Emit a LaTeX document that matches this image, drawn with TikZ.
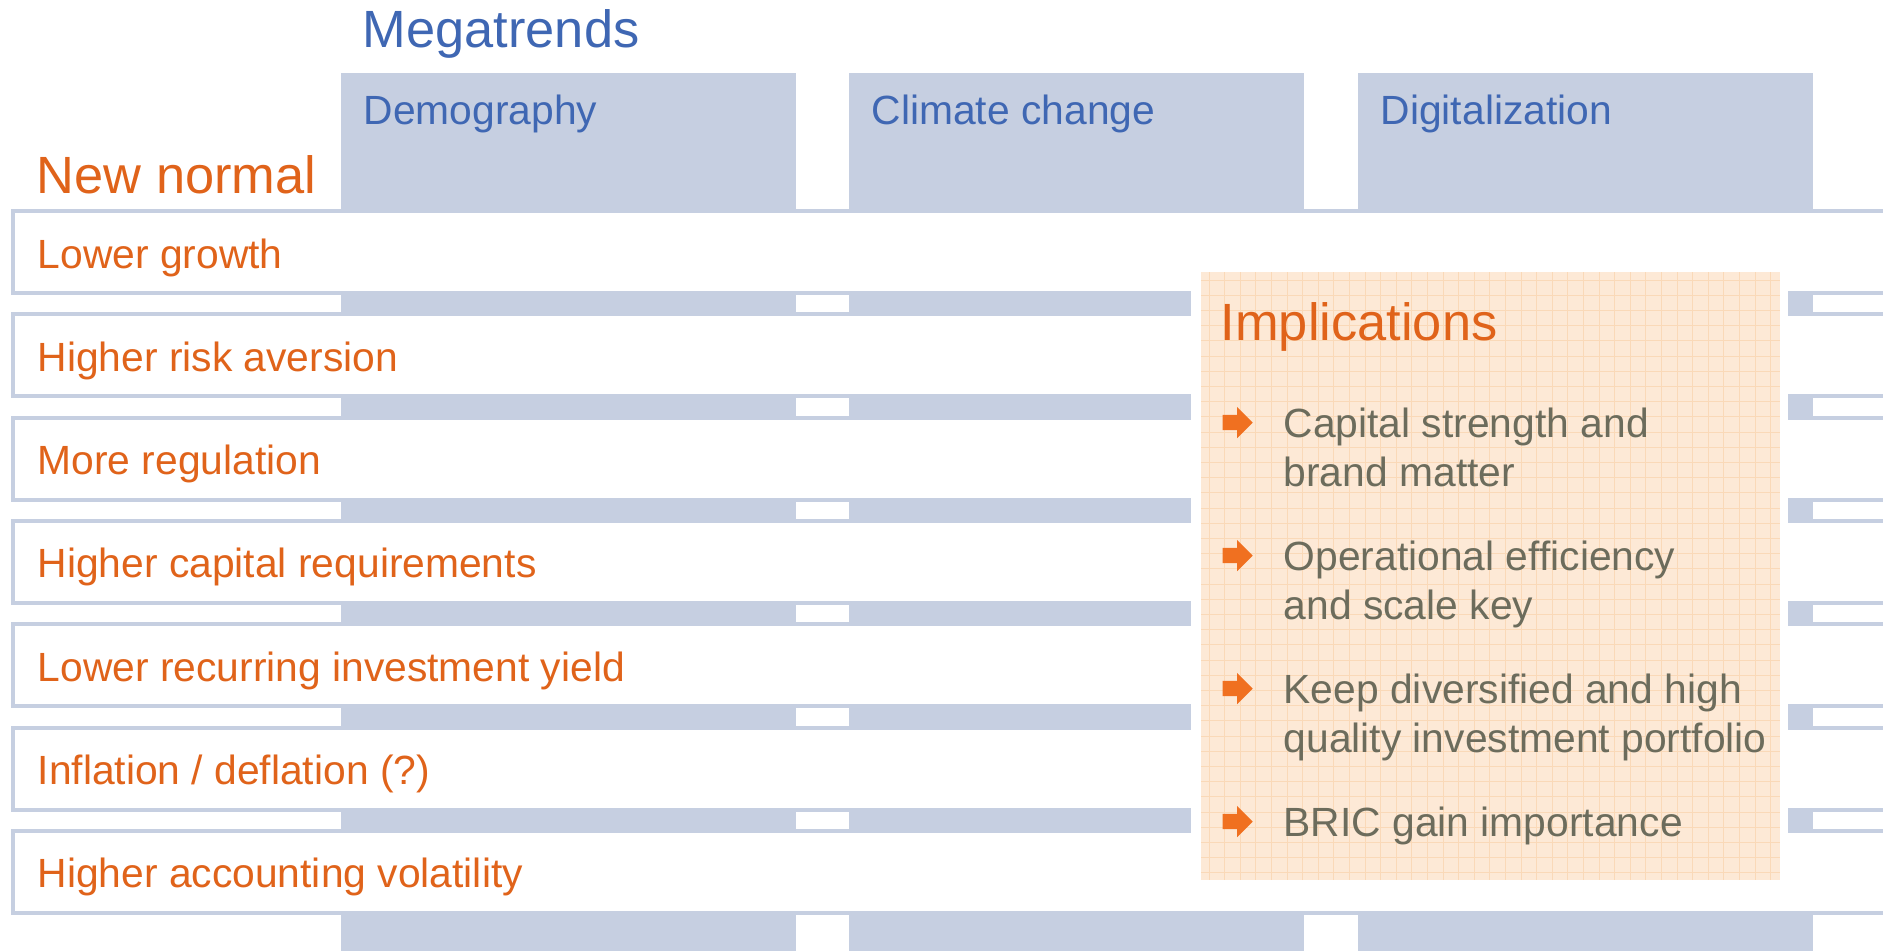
\documentclass[tikz,border=0pt]{standalone}
\usepackage{fontspec}
\setmainfont{Liberation Sans}
\usetikzlibrary{shapes.arrows}

\definecolor{trend}{HTML}{C6CFE1}
\definecolor{trendtext}{HTML}{3F67B3}
\definecolor{normal}{HTML}{E0631A}
\definecolor{implbg}{HTML}{FDE9D6}
\definecolor{implgrid}{HTML}{FAD9B8}
\definecolor{impltext}{HTML}{6C6C5C}
\definecolor{implarrow}{HTML}{F07020}

\begin{document}
\begin{tikzpicture}[x=0.01cm,y=-0.01cm,
  big/.style={inner sep=0,anchor=base west,font=\fontsize{14.9}{18}\selectfont},
  small/.style={inner sep=0,anchor=base west,font=\fontsize{11.6}{13.9}\selectfont},
  item/.style={small,align=left,text=impltext},
  bullet/.style={single arrow,fill=implarrow,inner sep=0,inner ysep=0.07cm,
    minimum height=0.3cm,single arrow head extend=0.08cm,anchor=tail}]
\useasboundingbox (0,0) rectangle (1883,950);
\clip (0,0) rectangle (1883,950);

% megatrend columns
\foreach \cx in {341,849,1358}
  \fill[trend] (\cx,73) rectangle ++(455,900);

% new normal rows
\foreach \lbl [count=\i] in {Lower growth,Higher risk aversion,More regulation,
    Higher capital requirements,Lower recurring investment yield,
    Inflation / deflation (?),Higher accounting volatility}
{
  \draw[trend,line width=0.04cm,fill=white]
    (13,{211+(\i-1)*103.3}) rectangle (1900,{293+(\i-1)*103.3});
  \node[small,text=normal] (row\i) at (37,{268+(\i-1)*103.3}) {\lbl};
}

\node[big,text=trendtext] (mega) at (362,47) {Megatrends};
\node[small,text=trendtext] (demo) at (363,124) {Demography};
\node[small,text=trendtext] (climate) at (871,124) {Climate change};
\node[small,text=trendtext] (digital) at (1380,124) {Digitalization};
\node[big,text=normal] (newnormal) at (36,193) {New normal};

% implications box
\fill[white] (1191,264) rectangle (1788,889);
\fill[implbg] (1201,272) rectangle (1780,880);
\foreach \gx in {1209,1224.6,...,1780}
  \draw[implgrid,line width=0.25pt] (\gx,272) -- (\gx,880);
\foreach \gy in {280,295.2,...,880}
  \draw[implgrid,line width=0.25pt] (1201,\gy) -- (1780,\gy);

\node[big,text=normal] (impl) at (1220,340) {Implications};

% bullets: two-line items sit on their last baseline
\node[bullet] (b1) at (1222,422.5) {};
\node[item] (i1) at (1283,486) {Capital strength and\\brand matter};
\node[bullet] (b2) at (1222,555.5) {};
\node[item] (i2) at (1283,619) {Operational efficiency\\and scale key};
\node[bullet] (b3) at (1222,688.5) {};
\node[item] (i3) at (1283,752) {Keep diversified and high\\quality investment portfolio};
\node[bullet] (b4) at (1222,821.5) {};
\node[item] (i4) at (1283,836) {BRIC gain importance};
\end{tikzpicture}
\end{document}
